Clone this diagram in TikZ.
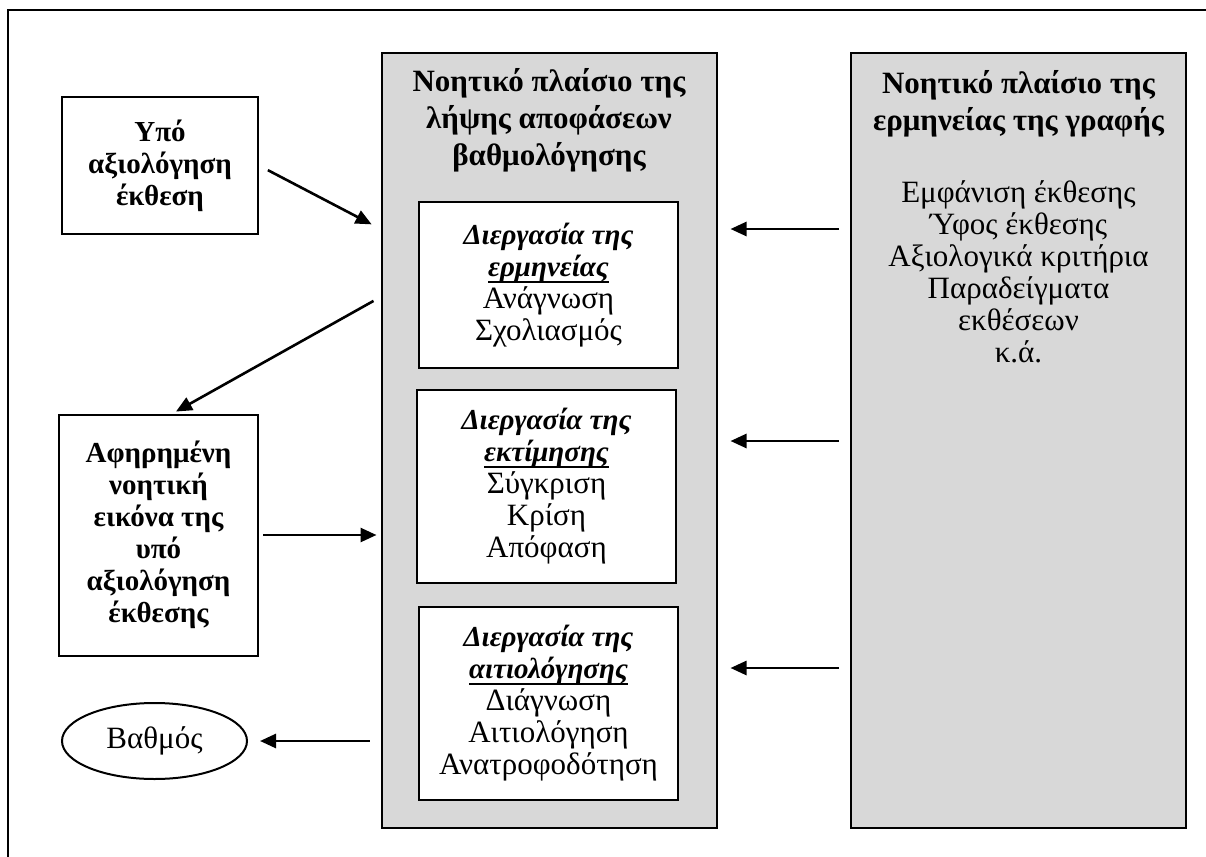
\documentclass[tikz,border=0pt]{standalone}
\usepackage{fontspec}
\setmainfont{Liberation Serif}
\usetikzlibrary{arrows.meta,shapes.geometric,positioning,calc}
\definecolor{panelgray}{RGB}{216,216,216}
% thick underline a little below the baseline
\newcommand{\uword}[1]{\setbox0=\hbox{#1}\rlap{\vrule width\wd0 height-2.2pt depth3.2pt}\box0}
\newcommand{\procname}[1]{{\fontsize{14.5}{16}\selectfont\bfseries\itshape #1}}

\begin{document}
\begin{tikzpicture}[x=0.5pt,y=-0.5pt,
    box/.style={draw,line width=1pt,fill=white,align=center,inner sep=0pt},
    panel/.style={draw,line width=1pt,fill=panelgray,minimum width=167.5pt,minimum height=387.5pt,inner sep=0pt},
    arr/.style={line width=1.3pt,-{Triangle[length=8pt,width=7pt]}},
    txt/.style={font=\fontsize{15.5}{16}\selectfont,align=center},
    btxt/.style={font=\fontsize{14.5}{16}\selectfont\bfseries,align=center},
    head/.style={font=\fontsize{15.5}{18.5}\selectfont\bfseries,align=center}]
    \useasboundingbox (0,0) rectangle (1206,857);
    % outer frame (only left and top edges are visible)
    \draw[line width=0.8pt] (8,857) -- (8,10) -- (1206,10);

    % left column
    \node[box,btxt,minimum width=98pt,minimum height=68.5pt] (eval) at (160,165.5) {Υπό\\αξιολόγηση\\έκθεση};
    \node[box,btxt,minimum width=99.5pt,minimum height=120.5pt] (abstr) at (158.5,535) {Αφηρημένη\\νοητική\\εικόνα της\\υπό\\αξιολόγηση\\έκθεσης};
    \node[draw,ellipse,line width=1pt,inner sep=0pt,minimum width=92.5pt,minimum height=38pt,txt] (grade) at (154.5,741) {Βαθμός};

    % middle panel (grading decisions)
    \node[panel] (mid) at (549,440.5) {};
    \node[head] (midhead) at (549,120) {Νοητικό πλαίσιο της\\λήψης αποφάσεων\\βαθμολόγησης};
    \node[box,txt,minimum width=129.5pt,minimum height=83pt] (interp) at (548.5,285) {\procname{Διεργασία της}\\\procname{\uword{ερμηνείας}}\\Ανάγνωση\\Σχολιασμός};
    \node[box,txt,minimum width=129.5pt,minimum height=96.5pt] (estim) at (546.5,486) {\procname{Διεργασία της}\\\procname{\uword{εκτίμησης}}\\Σύγκριση\\Κρίση\\Απόφαση};
    \node[box,txt,minimum width=129.5pt,minimum height=96.5pt] (justif) at (548.5,703) {\procname{Διεργασία της}\\\procname{\uword{αιτιολόγησης}}\\Διάγνωση\\Αιτιολόγηση\\Ανατροφοδότηση};

    % right panel (interpretation of writing)
    \node[panel] (ctx) at (1018.5,440.5) {};
    \node[head] (ctxhead) at (1018.5,104) {Νοητικό πλαίσιο της\\ερμηνείας της γραφής};
    \node[txt] (ctxlist) at (1018.5,272) {Εμφάνιση έκθεσης\\Ύφος έκθεσης\\Αξιολογικά κριτήρια\\Παραδείγματα\\εκθέσεων\\κ.ά.};

    % arrows
    \draw[arr,shorten <=5pt,shorten >=5pt] (eval.east) -- (mid.west |- 0,229);
    \draw[arr,shorten <=4pt,shorten >=2pt] (mid.west |- 0,297) -- ([xshift=7pt]abstr.north);
    \draw[arr,shorten <=2pt,shorten >=2pt] (abstr.east) -- (abstr.east -| mid.west);
    \draw[arr,shorten <=5.5pt,shorten >=6pt] (mid.west |- grade.east) -- (grade.east);
    \draw[arr,shorten <=5.5pt,shorten >=6.5pt] (ctx.west |- 0,229) -- (mid.east |- 0,229);
    \draw[arr,shorten <=5.5pt,shorten >=6.5pt] (ctx.west |- 0,441) -- (mid.east |- 0,441);
    \draw[arr,shorten <=5.5pt,shorten >=6.5pt] (ctx.west |- 0,668) -- (mid.east |- 0,668);
\end{tikzpicture}
\end{document}
